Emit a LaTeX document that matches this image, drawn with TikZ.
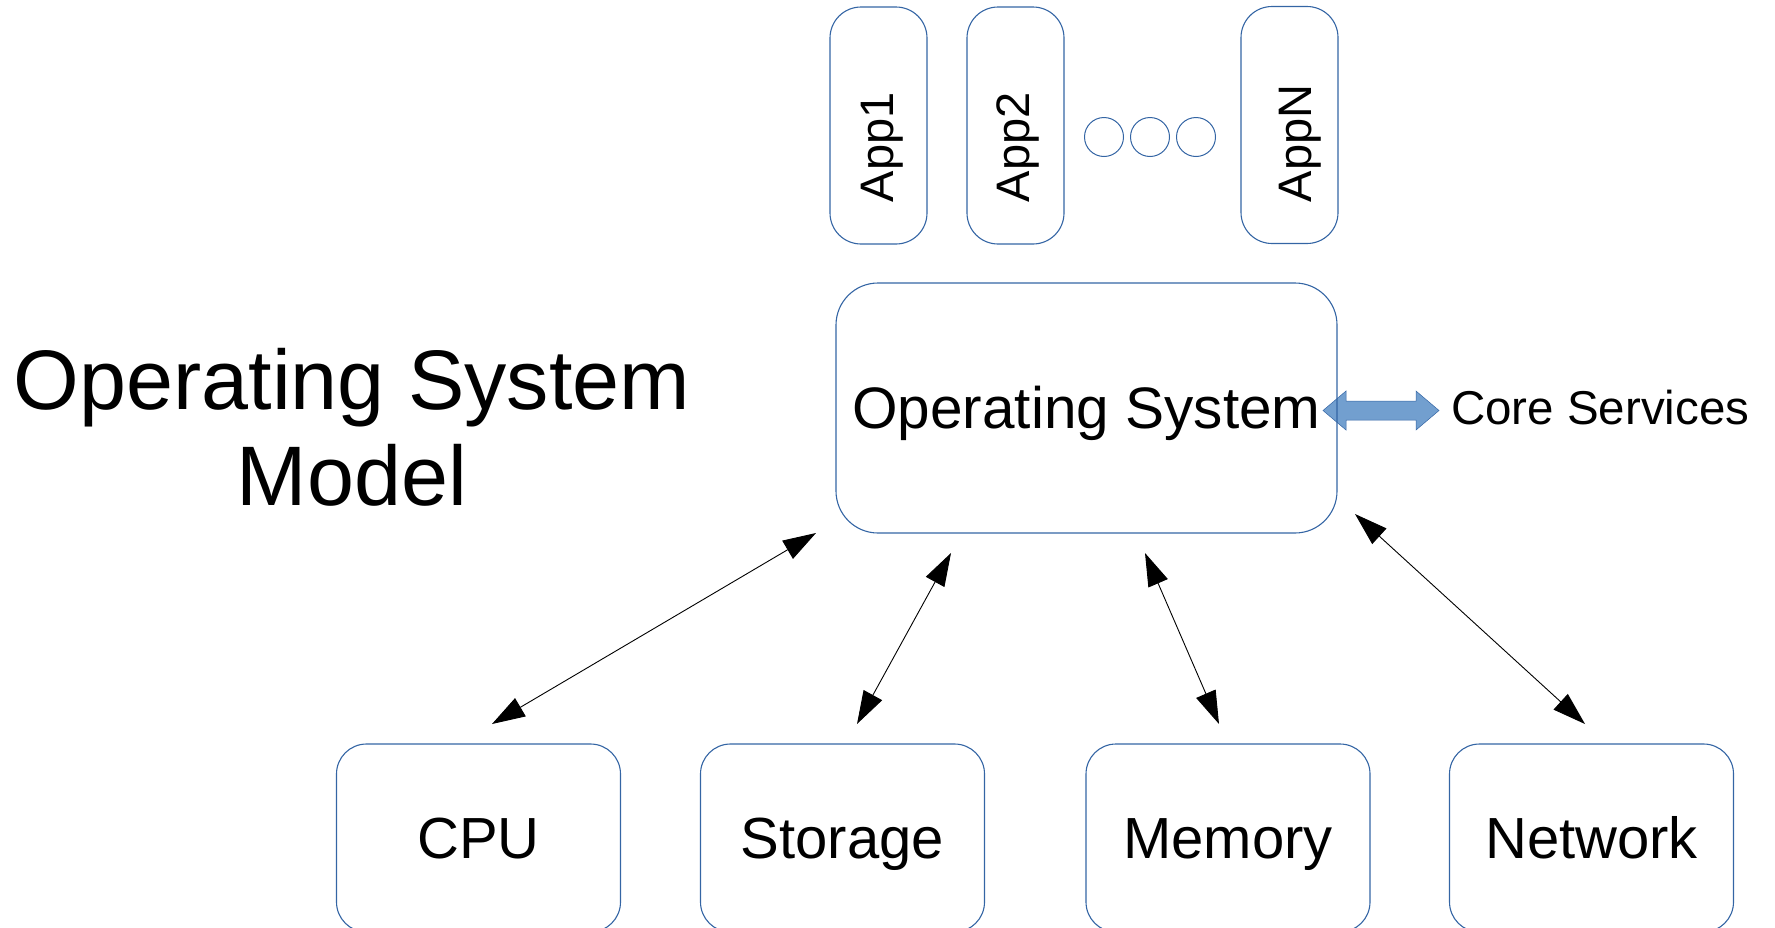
\documentclass[tikz,border=0pt]{standalone}
\usepackage{fontspec}
\setmainfont{Liberation Sans}
\usetikzlibrary{arrows.meta}
\definecolor{boxblue}{HTML}{3465A4}
\definecolor{arrowfill}{HTML}{729FCF}
\begin{document}
\begin{tikzpicture}[x=1pt,y=-1pt,
  box/.style={draw=boxblue, line width=1.1pt, rectangle, rounded corners=#1, inner sep=0pt, outer sep=0pt},
  box/.default=30pt,
  appbox/.style={box=31pt, minimum width=97pt, minimum height=237pt},
  hwbox/.style={box=30pt, minimum width=284pt, minimum height=188pt,
    font=\fontsize{58}{70}\selectfont, text height=41.5pt, text depth=0pt},
  dotc/.style={draw=boxblue, line width=1pt, circle, minimum size=39pt, inner sep=0pt},
  apptext/.style={rotate=90, anchor=base west, inner sep=0pt, outer sep=0pt, font=\fontsize{47}{56}\selectfont},
  biarrow/.style={line width=0.9pt, {Triangle[length=33pt,width=21pt]}-{Triangle[length=33pt,width=21pt]}},
]
\useasboundingbox (0,0) rectangle (1775,927);

% title
\node[font=\fontsize{84.5}{96}\selectfont, align=center, anchor=base, inner sep=0pt] (title) at (352,505) {Operating System\\Model};

% applications
\node[appbox] (app1) at (878.5,125.5) {};
\node[appbox] (app2) at (1015.5,125.5) {};
\node[appbox] (appN) at (1289.5,125) {};
\node[apptext] (app1t) at (893,202) {App1};
\node[apptext] (app2t) at (1029.5,202) {App2};
\node[apptext] (appNt) at (1311,202) {AppN};
\node[dotc] (d1) at (1104,137) {};
\node[dotc] (d2) at (1150,137) {};
\node[dotc] (d3) at (1196,137) {};

% core services arrow (drawn before the box so the outline shows through)
\draw[draw=boxblue, line width=0.5pt, fill=arrowfill]
  (1323,410.5) -- (1346,391) -- (1346,401) -- (1416,401) -- (1416,391) -- (1439,410.5)
  -- (1416,430) -- (1416,420) -- (1346,420) -- (1346,430) -- cycle;

% operating system
\node[box=42pt, minimum width=501pt, minimum height=250pt,
  font=\fontsize{58.5}{70}\selectfont, text height=41.8pt, text depth=0pt] (os) at (1086.5,408) {Operating System};
\node[anchor=base west, inner sep=0pt, font=\fontsize{47.5}{57}\selectfont] (core) at (1451,424) {Core Services};

% hardware
\node[hwbox] (cpu) at (478.5,838) {CPU};
\node[hwbox] (storage) at (842.5,838) {Storage};
\node[hwbox] (memory) at (1228,838) {Memory};
\node[hwbox] (network) at (1591.5,838) {Network};

% connectors
\coordinate (cpuT) at (816,533);
\coordinate (cpuB) at (492,724);
\coordinate (stoT) at (951,553);
\coordinate (stoB) at (857,724);
\coordinate (memT) at (1145,553);
\coordinate (memB) at (1219,724);
\coordinate (netT) at (1355,514);
\coordinate (netB) at (1585,724);
\draw[biarrow] (cpuT) -- (cpuB);
\draw[biarrow] (stoT) -- (stoB);
\draw[biarrow] (memT) -- (memB);
\draw[biarrow] (netT) -- (netB);
\end{tikzpicture}
\end{document}
